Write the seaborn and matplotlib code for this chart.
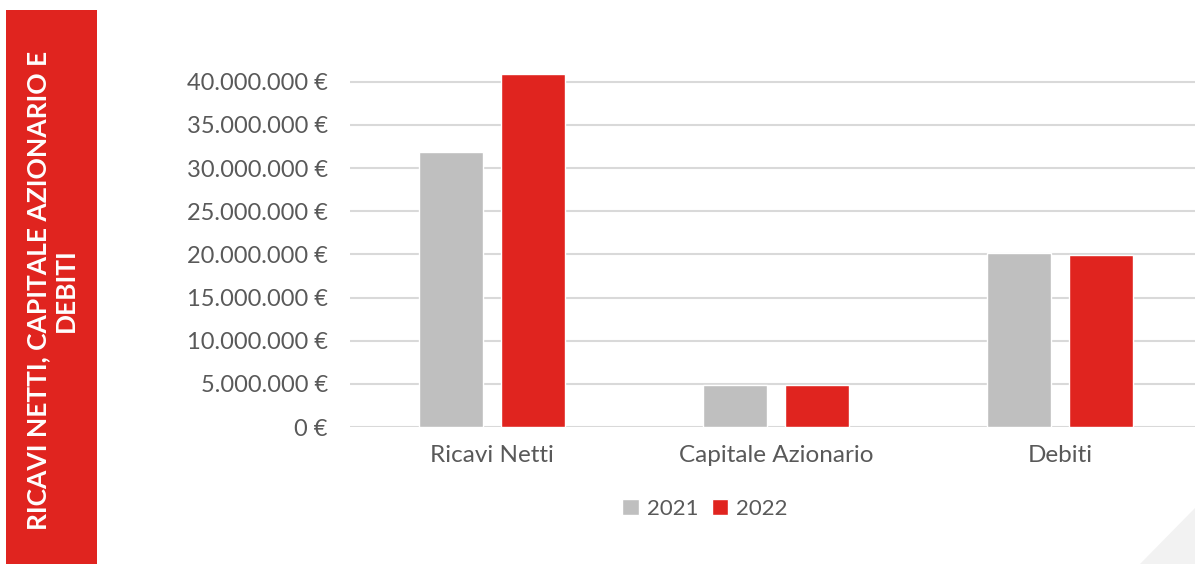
import matplotlib.pyplot as plt
import pandas as pd
import seaborn as sns
from matplotlib.patches import Polygon, Rectangle
from matplotlib.ticker import FuncFormatter

categories = ['Ricavi Netti', 'Capitale Azionario', 'Debiti']
years = ['2021', '2022']
values_2021 = [31900000, 4870000, 20150000]
values_2022 = [40900000, 4870000, 19950000]
y_ticks = [0, 5000000, 10000000, 15000000, 20000000, 25000000, 30000000, 35000000, 40000000]
side_title = 'RICAVI NETTI, CAPITALE AZIONARIO E\nDEBITI'

grey = '#BFBFBF'
red = '#E0241F'
text_col = '#595959'

df = pd.DataFrame({
    'categoria': categories * 2,
    'anno': [years[0]] * 3 + [years[1]] * 3,
    'valore': values_2021 + values_2022,
})

sns.set_theme(style='white')
plt.rcParams['font.family'] = ['Lato', 'DejaVu Sans']

fig = plt.figure(figsize=(11.95, 5.64), dpi=100)
ax = fig.add_axes([350 / 1195, 0.2429, 852 / 1195, 0.635])

sns.barplot(data=df, x='categoria', y='valore', hue='anno', palette=[grey, red],
            width=0.58, gap=0.22, ax=ax, saturation=1, legend=True)

ax.set_xlim(-0.5, 2.5)
ax.set_ylim(0, 41500000)
ax.set_yticks(y_ticks)
ax.yaxis.set_major_formatter(FuncFormatter(lambda v, p: f'{int(v):,} €'.replace(',', '.')))
ax.grid(axis='y', color='#D9D9D9', linewidth=1.5)
ax.set_axisbelow(True)
for s in ax.spines.values():
    s.set_visible(False)
ax.tick_params(axis='y', length=0, pad=16, labelsize=17, labelcolor=text_col)
ax.tick_params(axis='x', length=0, pad=13, labelsize=17.5, labelcolor=text_col)
ax.set_xlabel('')
ax.set_ylabel('')
for p in ax.patches:
    p.set_clip_on(False)

ax.legend(loc='center', bbox_to_anchor=(705 / 1195, 1 - 509 / 564), bbox_transform=fig.transFigure,
          ncol=2, frameon=False, handlelength=0.75, handleheight=0.75, handletextpad=0.35,
          columnspacing=0.6, fontsize=16, labelcolor=text_col)

# red side band with the title
fig.patches.append(Rectangle((6 / 1195, 0), 91 / 1195, 554 / 564, transform=fig.transFigure,
                             facecolor=red, edgecolor='none', zorder=0))
fig.text(52 / 1195, 1 - 290 / 564, side_title, rotation=90, ha='center', va='center',
         color='white', fontsize=19, fontweight='bold', multialignment='center', linespacing=1.2)

# light corner triangle
fig.patches.append(Polygon([(1140 / 1195, 0), (1, 0), (1, 56 / 564)], closed=True,
                           transform=fig.transFigure, facecolor='#F2F2F2', edgecolor='none'))

fig.savefig('out.png', dpi=100)
